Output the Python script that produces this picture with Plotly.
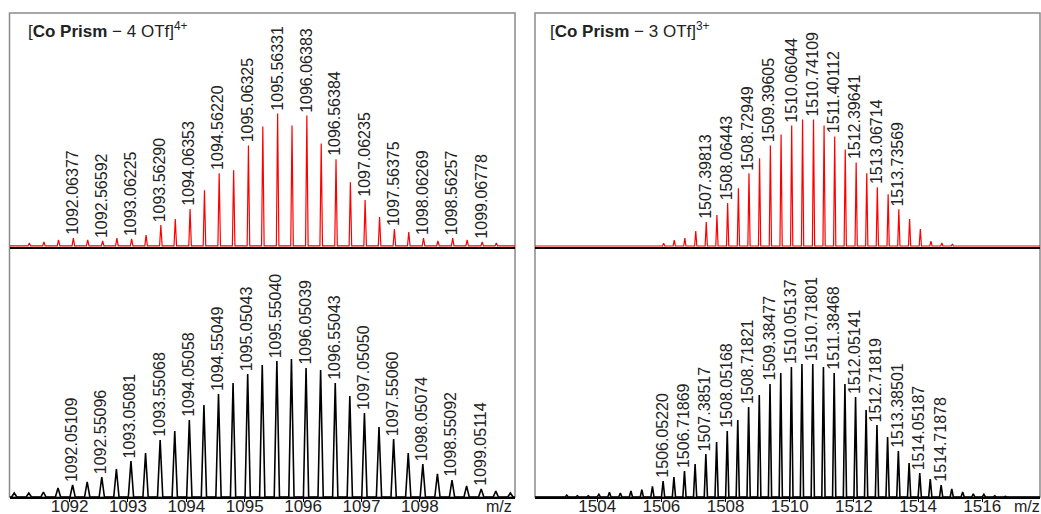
import plotly.graph_objects as go

# ---------------- data ----------------
# Left, top (experimental, red) [Co Prism - 4 OTf]4+
exp4_mz = [1091.31, 1091.56, 1091.81, 1092.06377, 1092.31, 1092.56592, 1092.81, 1093.06225,
           1093.31, 1093.56290, 1093.81, 1094.06353, 1094.31, 1094.56220, 1094.81, 1095.06325,
           1095.31, 1095.56331, 1095.81, 1096.06383, 1096.31, 1096.56384, 1096.81, 1097.06235,
           1097.31, 1097.56375, 1097.81, 1098.06269, 1098.31, 1098.56257, 1098.81, 1099.06778,
           1099.31]
exp4_int = [2.3, 3.0, 4.5, 6.0, 4.5, 3.8, 6.0, 5.3, 8.3, 15.8, 20.3, 27.8, 42.1, 54.9, 57.1, 75.9,
            90.2, 100.0, 91.0, 98.5, 77.4, 65.4, 48.1, 34.6, 21.8, 12.8, 10.5, 6.0, 3.8, 6.0, 4.5,
            3.0, 2.3]
exp4_labels = ["1092.06377", "1092.56592", "1093.06225", "1093.56290", "1094.06353", "1094.56220",
               "1095.06325", "1095.56331", "1096.06383", "1096.56384", "1097.06235", "1097.56375",
               "1098.06269", "1098.56257", "1099.06778"]
exp4_label_mz = [1092.06377, 1092.56592, 1093.06225, 1093.56290, 1094.06353, 1094.56220,
                 1095.06325, 1095.56331, 1096.06383, 1096.56384, 1097.06235, 1097.56375,
                 1098.06269, 1098.56257, 1099.06778]

# Left, bottom (simulated, black)
sim4_mz = [1091.051, 1091.301, 1091.551, 1091.801, 1092.05109, 1092.301, 1092.55096, 1092.801,
           1093.05081, 1093.301, 1093.55068, 1093.801, 1094.05058, 1094.301, 1094.55049, 1094.800,
           1095.05043, 1095.300, 1095.55040, 1095.800, 1096.05039, 1096.300, 1096.55043, 1096.800,
           1097.05050, 1097.300, 1097.55060, 1097.801, 1098.05074, 1098.301, 1098.55092, 1098.801,
           1099.05114, 1099.301, 1099.551]
sim4_int = [2.9, 2.9, 3.6, 6.5, 8.7, 10.9, 14.5, 20.3, 26.1, 31.9, 41.3, 47.8, 55.8, 66.7, 74.6,
            82.6, 89.1, 95.7, 98.6, 100.0, 93.5, 92.0, 82.6, 73.2, 60.9, 50.7, 42.0, 31.9, 23.9,
            16.7, 12.3, 8.0, 5.8, 4.3, 2.9]
sim4_labels = ["1092.05109", "1092.55096", "1093.05081", "1093.55068", "1094.05058", "1094.55049",
               "1095.05043", "1095.55040", "1096.05039", "1096.55043", "1097.05050", "1097.55060",
               "1098.05074", "1098.55092", "1099.05114"]
sim4_label_mz = [1092.05109, 1092.55096, 1093.05081, 1093.55068, 1094.05058, 1094.55049,
                 1095.05043, 1095.55040, 1096.05039, 1096.55043, 1097.05050, 1097.55060,
                 1098.05074, 1098.55092, 1099.05114]

# Right, top (experimental, red) [Co Prism - 3 OTf]3+
exp3_mz = [1506.07, 1506.40, 1506.73, 1507.07, 1507.39813, 1507.73, 1508.06443, 1508.40,
           1508.72949, 1509.06, 1509.39605, 1509.73, 1510.06044, 1510.40, 1510.74109, 1511.07,
           1511.40112, 1511.73, 1512.07, 1512.40, 1512.73, 1513.06714, 1513.40, 1513.73569,
           1514.07, 1514.40, 1514.74, 1515.07]
exp3_int = [2.1, 4.7, 6.3, 11.8, 18.9, 24.4, 33.9, 45.7, 57.5, 69.3, 79.5, 88.2, 95.3, 100.0, 100.0,
            95.3, 86.6, 76.4, 66.1, 57.5, 46.5, 40.9, 29.1, 21.3, 13.4, 3.9, 2.4, 1.6]
exp3_labels = ["1507.39813", "1508.06443", "1508.72949", "1509.39605", "1510.06044", "1510.74109",
               "1511.40112", "1512.39641", "1513.06714", "1513.73569"]
exp3_label_mz = [1507.39813, 1508.06443, 1508.72949, 1509.39605, 1510.06044, 1510.74109,
                 1511.40112, 1512.07, 1512.73, 1513.40]

# Right, bottom (simulated, black)
sim3_mz = [1503.05, 1503.38, 1503.72, 1504.05, 1504.38, 1504.72, 1505.05, 1505.39, 1505.72,
           1506.05220, 1506.39, 1506.71869, 1507.05, 1507.38517, 1507.72, 1508.05168, 1508.38,
           1508.71821, 1509.05, 1509.38477, 1509.72, 1510.05137, 1510.38, 1510.71801, 1511.05,
           1511.38468, 1511.72, 1512.05141, 1512.38, 1512.71819, 1513.05, 1513.38501, 1513.72,
           1514.05187, 1514.38, 1514.71878, 1515.05, 1515.39, 1515.72, 1516.05, 1516.39, 1516.72]
sim3_int = [1.3, 1.0, 1.0, 2.0, 3.5, 3.0, 4.5, 5.5, 8.0, 12.0, 15.0, 19.5, 24.8, 32.3, 41.4, 49.6,
            57.9, 67.7, 76.7, 85.0, 93.2, 97.7, 100.0, 100.0, 97.7, 93.2, 85.0, 75.2, 65.4, 54.1,
            45.1, 34.6, 25.6, 18.0, 13.5, 9.0, 6.0, 3.8, 2.3, 2.0, 1.0, 0.5]
sim3_labels = ["1506.05220", "1506.71869", "1507.38517", "1508.05168", "1508.71821", "1509.38477",
               "1510.05137", "1510.71801", "1511.38468", "1512.05141", "1512.71819", "1513.38501",
               "1514.05187", "1514.71878"]
sim3_label_mz = [1506.05220, 1506.71869, 1507.38517, 1508.05168, 1508.71821, 1509.38477,
                 1510.05137, 1510.71801, 1511.38468, 1512.05141, 1512.71819, 1513.38501,
                 1514.05187, 1514.71878]

left_ticks = [1092, 1093, 1094, 1095, 1096, 1097, 1098]
right_ticks = [1504, 1506, 1508, 1510, 1512, 1514, 1516]

titles = ["[<b>Co Prism</b> − 4 OTf]<sup>4+</sup>", "[<b>Co Prism</b> − 3 OTf]<sup>3+</sup>"]

# ---------------- layout constants ----------------
W, H = 1041, 514
FONT = "Liberation Sans, Arial, sans-serif"
TXT = "#222222"


def PX(x):
    return x / W


def PY(y):
    return 1 - y / H


left_range = [1090.97, 1099.63]
right_range = [1502.06, 1517.80]
xl_dom = [PX(9.5), PX(515)]
xr_dom = [PX(535), PX(1040)]
y_bot = PY(497)
y_mid = PY(247)
y_top = PY(13)


def profile(mz, inten, hw, xr):
    xs, ys = [xr[0]], [0]
    for m, v in zip(mz, inten):
        xs += [m - hw, m, m + hw]
        ys += [0, v, 0]
    xs.append(xr[1])
    ys.append(0)
    return xs, ys


fig = go.Figure()

panels = [
    (exp4_mz, exp4_int, 0.022, left_range, "#ff0000", 1.2, "x", "y"),
    (sim4_mz, sim4_int, 0.045, left_range, "#000000", 1.6, "x2", "y2"),
    (exp3_mz, exp3_int, 0.035, right_range, "#ff0000", 1.2, "x3", "y3"),
    (sim3_mz, sim3_int, 0.05, right_range, "#000000", 1.6, "x4", "y4"),
]
for mz, inten, hw, xr, col, lw, xa, ya in panels:
    xs, ys = profile(mz, inten, hw, xr)
    fig.add_trace(go.Scatter(x=xs, y=ys, mode="lines", line=dict(color=col, width=lw),
                             xaxis=xa, yaxis=ya, hoverinfo="skip", showlegend=False))

annotations = []
label_sets = [
    (exp4_labels, exp4_label_mz, exp4_mz, exp4_int, "x", "y"),
    (sim4_labels, sim4_label_mz, sim4_mz, sim4_int, "x2", "y2"),
    (exp3_labels, exp3_label_mz, exp3_mz, exp3_int, "x3", "y3"),
    (sim3_labels, sim3_label_mz, sim3_mz, sim3_int, "x4", "y4"),
]
for labels, lmz, mz, inten, xa, ya in label_sets:
    for text, pos in zip(labels, lmz):
        idx = min(range(len(mz)), key=lambda i: abs(mz[i] - pos))
        annotations.append(dict(x=mz[idx], y=inten[idx], xref=xa, yref=ya, text=text,
                                textangle=-90, showarrow=False, xanchor="center",
                                yanchor="bottom", yshift=2, xshift=-1, borderpad=0,
                                font=dict(family=FONT, size=16, color=TXT)))

for i, t in enumerate(titles):
    annotations.append(dict(x=PX(27 if i == 0 else 549), y=PY(30), xref="paper",
                            yref="paper", text=t, showarrow=False, xanchor="left",
                            yanchor="middle", borderpad=0,
                            font=dict(family=FONT, size=17, color=TXT)))

for xp in [PX(499), PX(1027)]:
    annotations.append(dict(x=xp, y=y_bot, xref="paper", yref="paper", text="m/z",
                            showarrow=False, xanchor="center", yanchor="top", yshift=0,
                            borderpad=0, font=dict(family=FONT, size=16, color=TXT)))

shapes = []
for dom in [xl_dom, xr_dom]:
    shapes.append(dict(type="rect", xref="paper", yref="paper", x0=dom[0], x1=dom[1],
                       y0=y_bot, y1=y_top, line=dict(color="#8a8a8a", width=1.5),
                       layer="below"))

top_x = dict(showline=True, linecolor="#000000", linewidth=2, showticklabels=False,
             ticks="", showgrid=False, zeroline=False, automargin=False)
bot_x = dict(showline=True, linecolor="#000000", linewidth=1.6, showticklabels=True,
             ticks="outside", ticklen=3, tickcolor="#000000", showgrid=False, zeroline=False,
             automargin=False, ticklabelstandoff=-10,
             tickfont=dict(family=FONT, size=17, color=TXT))
ycommon = dict(showline=False, showticklabels=False, ticks="", showgrid=False, zeroline=False,
               automargin=False)

fig.update_layout(
    width=W, height=H, margin=dict(l=0, r=0, t=0, b=0, autoexpand=False),
    paper_bgcolor="white", plot_bgcolor="white",
    xaxis=dict(domain=xl_dom, range=left_range, anchor="y", **top_x),
    yaxis=dict(domain=[y_mid, y_top], range=[-0.8, 175.9], anchor="x", **ycommon),
    xaxis2=dict(domain=xl_dom, range=left_range, anchor="y2", tickvals=left_ticks, **bot_x),
    yaxis2=dict(domain=[y_bot, y_mid], range=[0, 181.2], anchor="x2", **ycommon),
    xaxis3=dict(domain=xr_dom, range=right_range, anchor="y3", **top_x),
    yaxis3=dict(domain=[y_mid, y_top], range=[-0.8, 184.3], anchor="x3", **ycommon),
    xaxis4=dict(domain=xr_dom, range=right_range, anchor="y4", tickvals=right_ticks, **bot_x),
    yaxis4=dict(domain=[y_bot, y_mid], range=[0, 188.0], anchor="x4", **ycommon),
    annotations=annotations, shapes=shapes,
    font=dict(family=FONT, size=16, color=TXT),
)

# remove the default page margin so the 1041x514 figure fills the window exactly
fig.write_html("out.html", config={"displayModeBar": False},
               post_script="document.body.style.margin='0';document.body.style.overflow='hidden';")
